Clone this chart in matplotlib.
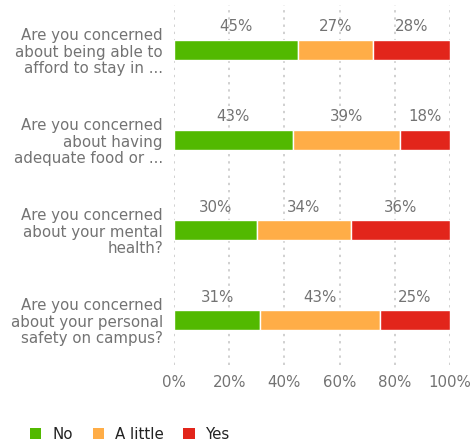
import matplotlib.pyplot as plt
from matplotlib.patches import Patch

questions = [
    'Are you concerned\nabout being able to\nafford to stay in ...',
    'Are you concerned\nabout having\nadequate food or ...',
    'Are you concerned\nabout your mental\nhealth?',
    'Are you concerned\nabout your personal\nsafety on campus?',
]
answers = ['No', 'A little', 'Yes']
no_vals = [45, 43, 30, 31]
little_vals = [27, 39, 34, 43]
yes_vals = [28, 18, 36, 25]
colors = ['#52b900', '#ffad47', '#e2251b']
ticks = [0, 20, 40, 60, 80, 100]

grey = '#737373'
plt.rcParams['font.family'] = ['DejaVu Sans']

fig = plt.figure(figsize=(4.73, 4.44), dpi=100)
ax = fig.add_axes([0.368, 0.178, 0.583, 0.811])

ypos = list(range(len(questions)))
series = [no_vals, little_vals, yes_vals]
totals = [sum(t) for t in zip(*series)]
left = [0.0] * len(questions)
for vals, col, name in zip(series, colors, answers):
    widths = [v / t * 100 for v, t in zip(vals, totals)]
    ax.barh(ypos, widths, left=left, height=0.23, color=col,
            edgecolor='white', linewidth=1, label=name, zorder=3)
    for y, l, w, v in zip(ypos, left, widths, vals):
        ax.annotate('%d%%' % v, (l + w / 2, y), xytext=(0, 16.5),
                    textcoords='offset points', ha='center', va='center',
                    color=grey, fontsize=10.8)
    left = [a + b for a, b in zip(left, widths)]

ax.set_ylim(3.5, -0.5)
ax.set_xlim(0, 100)
ax.set_yticks(ypos)
ax.set_yticklabels(questions, color=grey, fontsize=10.8, linespacing=1.12)
ax.set_xticks(ticks)
ax.set_xticklabels(['%d%%' % t for t in ticks], color=grey, fontsize=10.8)
ax.tick_params(length=0, pad=8)
ax.tick_params(axis='x', pad=7)
for s in ax.spines.values():
    s.set_visible(False)
ax.grid(axis='x', linestyle=(0, (1.2, 2.5)), color='#d0d0d0', linewidth=1.4, zorder=0)

handles = [Patch(facecolor=c, label=n) for c, n in zip(colors, answers)]
fig.legend(handles=handles, loc='lower left', bbox_to_anchor=(0.035, -0.025),
           ncol=3, frameon=False, fontsize=10.8, handlelength=0.75,
           handleheight=0.75, columnspacing=1.3, handletextpad=0.75,
           labelcolor='#222222')

fig.savefig('out.png', dpi=100)
